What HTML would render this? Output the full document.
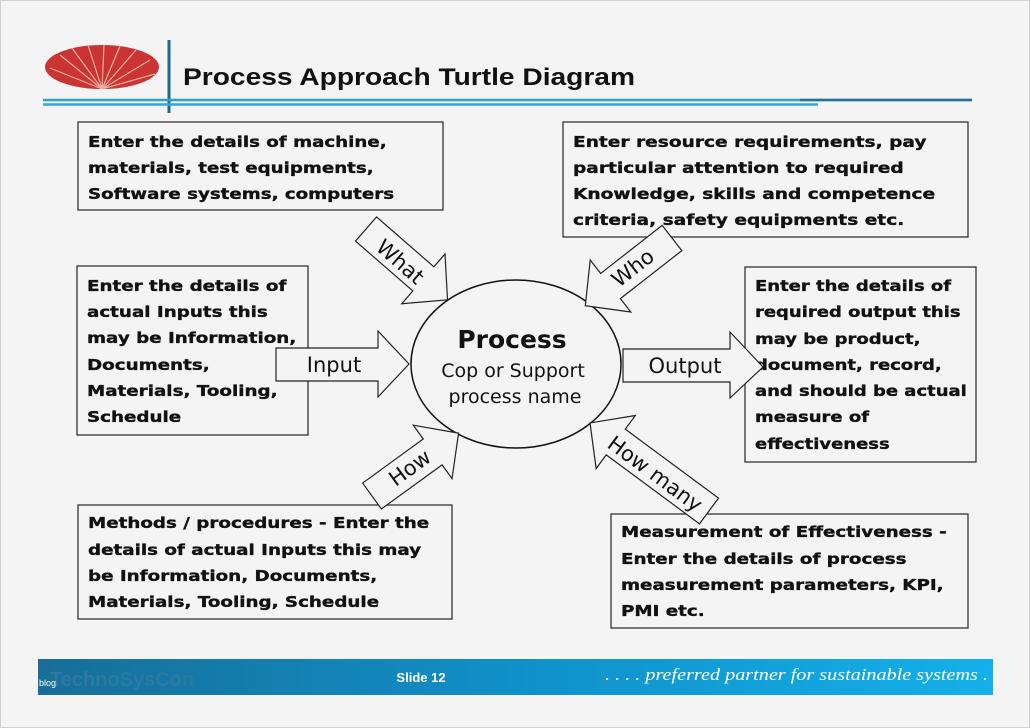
<!DOCTYPE html>
<html><head><meta charset="utf-8"><style>
html,body{margin:0;padding:0;background:#f4f4f4;}
svg{display:block;}
.b{font-family:"DejaVu Sans",sans-serif;font-weight:bold;font-size:15px;fill:#111;stroke:#111;stroke-width:0.35;}
.l{font-family:"DejaVu Sans",sans-serif;font-size:20px;fill:#111;}
</style></head><body>
<svg width="1030" height="728" viewBox="0 0 1030 728" xmlns="http://www.w3.org/2000/svg">
<rect x="0.5" y="0.5" width="1029" height="727" fill="#f4f4f4" stroke="#d0d0d0"/>
<ellipse cx="102" cy="67" rx="57" ry="22" fill="#cc3333"/>
<g stroke="#f0b0a0" stroke-width="1.2" fill="none">
<path d="M102 89 L60 55 M102 89 L72 48 M102 89 L88 45 M102 89 L104 45 M102 89 L120 46 M102 89 L136 50 M102 89 L150 60 M102 89 L50 68 M102 89 L155 74"/>
</g>
<line x1="169" y1="40" x2="169" y2="113" stroke="#1a6a94" stroke-width="3"/>
<line x1="43" y1="100" x2="972" y2="100" stroke="#2aa0d0" stroke-width="2.5"/>
<line x1="800" y1="100" x2="972" y2="100" stroke="#2a6e92" stroke-width="2.5"/>
<line x1="43" y1="104.5" x2="818" y2="104.5" stroke="#35a8d8" stroke-width="2.5"/>
<text x="183" y="85" font-family="Liberation Sans,sans-serif" font-weight="bold" font-size="24" fill="#111" textLength="452" lengthAdjust="spacingAndGlyphs">Process Approach Turtle Diagram</text>

<g fill="none" stroke="#333" stroke-width="1.3">
<rect x="78" y="122" width="365" height="88"/>
<rect x="563" y="122" width="405" height="115"/>
<rect x="77" y="266" width="231" height="169"/>
<rect x="745" y="267" width="231" height="195"/>
<rect x="78" y="505" width="374" height="114"/>
<rect x="611" y="514" width="357" height="114"/>
</g>
<g class="b">
<g transform="translate(88,0) scale(1.215,1)">
<text x="0" y="147">Enter the details of machine,</text>
<text x="0" y="173">materials, test equipments,</text>
<text x="0" y="199">Software systems, computers</text>
</g>
<g transform="translate(573,0) scale(1.24,1)">
<text x="0" y="147">Enter resource requirements, pay</text>
<text x="0" y="173">particular attention to required</text>
<text x="0" y="199">Knowledge, skills and competence</text>
<text x="0" y="225">criteria, safety equipments etc.</text>
</g>
<g transform="translate(87,0) scale(1.22,1)">
<text x="0" y="291">Enter the details of</text>
<text x="0" y="317">actual Inputs this</text>
<text x="0" y="343">may be Information,</text>
<text x="0" y="370">Documents,</text>
<text x="0" y="396">Materials, Tooling,</text>
<text x="0" y="422">Schedule</text>
</g>
<g transform="translate(755,0) scale(1.2,1)">
<text x="0" y="291">Enter the details of</text>
<text x="0" y="317">required output this</text>
<text x="0" y="344">may be product,</text>
<text x="0" y="370">document, record,</text>
<text x="0" y="396">and should be actual</text>
<text x="0" y="422">measure of</text>
<text x="0" y="449">effectiveness</text>
</g>
<g transform="translate(88,0) scale(1.22,1)">
<text x="0" y="528">Methods / procedures - Enter the</text>
<text x="0" y="555">details of actual Inputs this may</text>
<text x="0" y="581">be Information, Documents,</text>
<text x="0" y="607">Materials, Tooling, Schedule</text>
</g>
<g transform="translate(621,0) scale(1.22,1)">
<text x="0" y="537">Measurement of Effectiveness -</text>
<text x="0" y="564">Enter the details of process</text>
<text x="0" y="590">measurement parameters, KPI,</text>
<text x="0" y="616">PMI etc.</text>
</g>
</g>

<ellipse cx="516" cy="364" rx="105" ry="84" fill="#f4f4f4" stroke="#111" stroke-width="1.5"/>
<text x="512" y="348" text-anchor="middle" font-family="DejaVu Sans,sans-serif" font-weight="bold" font-size="25" fill="#111">Process</text>
<text x="513" y="377" text-anchor="middle" class="l" style="font-size:19px">Cop or Support</text>
<text x="515" y="403" text-anchor="middle" class="l" style="font-size:19px">process name</text>

<g fill="#f4f4f4" stroke="#222" stroke-width="1.2">
<path d="M276 348 L378 348 L378 331 L409 364 L378 397 L378 381 L276 381 Z"/>
<path d="M623 349 L730 349 L730 332 L763 367 L730 398 L730 382 L623 382 Z"/>
<g transform="translate(366,229) rotate(41)"><path d="M0 -16 L76 -16 L76 -33 L108 0 L76 33 L76 16 L0 16 Z"/></g>
<g transform="translate(672,238) rotate(142)"><path d="M0 -16 L78 -16 L78 -33 L110 0 L78 33 L78 16 L0 16 Z"/></g>
<g transform="translate(372,496) rotate(-36)"><path d="M0 -16 L75 -16 L75 -33 L107 0 L75 33 L75 16 L0 16 Z"/></g>
<g transform="translate(709,511) rotate(216.5)"><path d="M0 -16 L116 -16 L116 -33 L148 0 L116 33 L116 16 L0 16 Z"/></g>
</g>
<text x="334" y="372" text-anchor="middle" class="l" style="font-size:21px">Input</text>
<text x="685" y="373" text-anchor="middle" class="l" style="font-size:21px">Output</text>
<g transform="translate(400,262) rotate(41)"><text x="0" y="7" text-anchor="middle" class="l" style="font-size:21px">What</text></g>
<g transform="translate(633,268) rotate(-38)"><text x="0" y="7" text-anchor="middle" class="l" style="font-size:21px">Who</text></g>
<g transform="translate(410,468) rotate(-36)"><text x="0" y="7" text-anchor="middle" class="l" style="font-size:21px">How</text></g>
<g transform="translate(655,474) rotate(36.5)"><text x="0" y="7" text-anchor="middle" class="l" style="font-size:21px">How many</text></g>

<defs><linearGradient id="fg" x1="0" x2="1" y1="0" y2="0">
<stop offset="0" stop-color="#176e98"/><stop offset="0.5" stop-color="#1090c8"/><stop offset="1" stop-color="#14b0ea"/></linearGradient></defs>
<rect x="38" y="659" width="955" height="36" fill="url(#fg)"/>
<text x="50" y="686" font-family="Liberation Sans,sans-serif" font-weight="bold" font-size="20" fill="#2a7aa2">TechnoSysCon</text>
<text x="39" y="686" font-family="Liberation Sans,sans-serif" font-size="9" fill="#fff">blog</text>
<text x="421" y="682" text-anchor="middle" font-family="Liberation Sans,sans-serif" font-weight="bold" font-size="13" fill="#fff">Slide 12</text>
<text x="605" y="680" font-family="Liberation Serif,serif" font-style="italic" font-size="17" fill="#fff" textLength="383" lengthAdjust="spacingAndGlyphs">. . . . preferred partner for sustainable systems .</text>
</svg>
</body></html>
